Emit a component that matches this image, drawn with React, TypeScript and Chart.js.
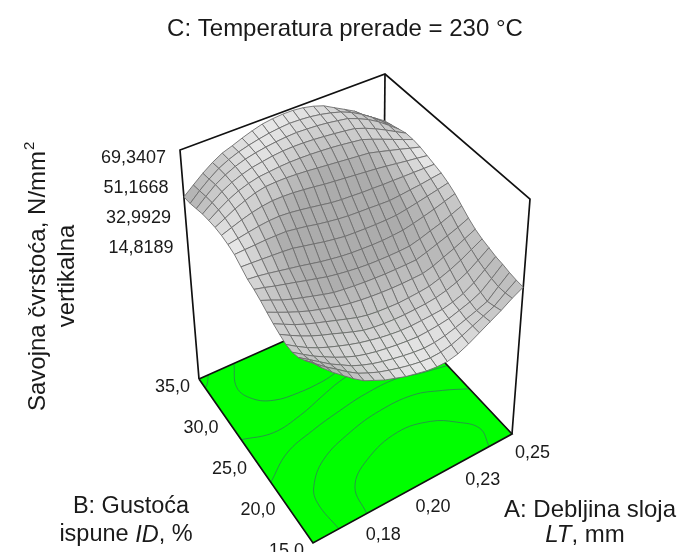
import React, { useEffect, useRef } from "react";
import { Chart, registerables } from "chart.js";

Chart.register(...registerables);

const titleText = "C: Temperatura prerade = 230 °C";
const thicknessValues = [0.15, 0.175, 0.2, 0.225, 0.25];
const thicknessLabels = ["0,15", "0,18", "0,20", "0,23", "0,25"];
const densityValues = [15, 20, 25, 30, 35];
const densityLabels = ["15,0", "20,0", "25,0", "30,0", "35,0"];
const strengthTicks = [69.3407, 51.1668, 32.9929, 14.8189];
const strengthLabels = ["69,3407", "51,1668", "32,9929", "14,8189"];

// rows: density 15 -> 35 %, columns: thickness 0.15 -> 0.25 mm
const strength = [
  [34.0,27.7,22.2,17.3,12.5,8.3,5.5,2.7,0.7,-1.4,-2.8,-4.2,-4.9,-4.9,-3.5,-0.7,2.7,6.2,9.7,13.8,17.3],
  [30.5,25.6,20.8,16.6,12.2,8.3,5.5,3.0,1.1,-0.6,-2.1,-3.2,-3.8,-3.5,-2.3,0.0,2.7,5.5,8.3,13.1,17.6],
  [27.7,23.6,19.4,15.2,11.8,8.3,5.7,3.6,1.9,0.5,-0.7,-1.7,-2.3,-2.0,-1.0,0.7,2.7,4.8,7.2,12.9,18.3],
  [26.3,22.2,18.3,15.0,11.8,9.0,6.6,4.8,3.4,2.3,1.4,0.7,0.2,0.5,1.1,2.0,3.9,5.9,8.7,13.8,19.4],
  [26.3,22.4,18.8,15.8,13.3,11.1,9.0,7.2,5.7,4.4,3.4,2.7,2.5,2.7,3.0,3.4,4.8,6.9,10.4,15.2,20.1],
  [27.7,24.3,21.1,18.3,15.9,13.8,11.5,9.3,7.3,6.2,5.5,5.1,5.0,5.2,5.5,6.2,7.6,9.7,12.7,16.9,21.5],
  [29.4,26.3,23.3,20.8,18.6,16.6,14.5,12.5,10.5,9.1,8.3,7.9,7.6,7.9,8.3,9.0,10.8,13.1,15.9,19.4,22.9],
  [31.6,28.8,26.1,23.6,21.3,19.4,17.6,15.9,14.7,13.8,13.1,12.6,12.3,12.2,12.3,12.5,14.1,16.6,19.0,21.9,24.9],
  [34.0,31.5,28.8,26.6,24.7,22.9,21.1,19.5,18.6,17.9,17.3,16.9,16.6,16.5,16.5,16.6,18.4,20.5,22.6,24.9,27.7],
  [36.0,34.4,32.6,31.0,29.4,27.7,26.1,24.5,23.3,22.3,21.5,20.9,20.6,20.5,20.5,20.8,22.4,24.4,26.3,28.7,31.2],
  [37.4,36.7,35.6,34.4,33.1,31.9,30.5,29.1,28.0,27.0,26.3,25.9,25.6,25.5,25.8,26.3,27.6,29.1,30.8,32.7,34.7],
  [40.2,39.9,39.5,39.1,38.7,38.1,36.7,35.4,34.0,32.9,31.9,31.5,31.2,31.0,31.0,31.2,32.2,33.4,34.7,36.0,37.4],
  [43.0,43.3,43.5,43.8,43.8,43.7,42.7,41.6,40.2,39.1,38.1,37.4,37.0,36.7,36.3,36.0,36.5,37.2,37.8,38.7,39.5],
  [44.4,45.5,46.6,47.6,48.3,48.5,48.0,47.1,46.0,44.9,43.7,43.0,42.6,42.1,41.9,41.6,41.5,41.3,41.2,41.0,40.9],
  [45.3,47.4,49.5,51.3,52.6,53.4,53.4,53.1,52.4,51.6,50.6,49.9,49.2,48.5,47.8,47.1,46.2,45.2,44.2,43.3,42.3],
  [45.5,48.5,51.6,54.1,56.2,57.5,57.8,57.8,57.4,56.9,56.2,55.5,54.8,54.1,53.4,52.7,51.0,49.2,47.4,45.5,43.7],
  [45.1,49.0,52.6,55.5,57.5,59.0,59.6,60.2,60.5,60.5,60.3,59.9,59.4,58.7,57.8,56.9,54.6,52.1,49.5,46.9,44.4],
  [44.4,48.8,53.0,56.2,58.5,60.3,61.4,62.4,63.0,63.2,63.1,62.7,62.1,61.4,60.6,59.6,57.3,54.5,51.3,47.8,44.4],
  [43.0,48.0,52.7,56.2,59.0,61.0,62.4,63.5,64.3,64.9,65.2,64.9,64.5,63.8,62.8,61.7,59.2,56.2,52.4,47.8,43.0],
  [41.6,46.9,51.6,55.7,58.7,61.0,62.7,64.1,65.3,66.1,66.6,66.4,65.9,64.9,63.5,61.7,59.0,55.5,51.3,46.4,41.6],
  [40.9,45.8,50.6,54.8,58.2,60.3,62.7,64.8,66.6,67.5,68.0,68.0,67.3,65.9,63.8,60.3,56.9,53.4,48.5,44.4,40.2],
];

// floor contours, each as thickness (mm) and density (%)
const contourThickness = [
  [0.177,0.18,0.192,0.211,0.226,0.235,0.241,0.2385],
  [0.163,0.162,0.165,0.176,0.194,0.211,0.228,0.24,0.25],
  [0.15,0.164,0.18,0.196,0.211,0.227,0.237,0.25],
  [0.15,0.1645,0.18,0.194,0.205,0.218],
  [0.169,0.163,0.166,0.174,0.186,0.199,0.206],
  [0.15,0.152,0.155],
];
const contourDensity = [
  [15,18,19.9,21,20.4,19,17.2,15],
  [15,18.3,20,22,23.3,23.9,23.8,22.8,21.6],
  [22.4,24.3,25.2,25.8,26.2,26.2,25.6,25],
  [27.6,26.8,27.2,28,28.6,29],
  [35,32.6,30.9,29.8,29.4,29.4,29.6],
  [33.9,34.2,35],
];

const A_MIN = 0.15, A_MAX = 0.25, B_MIN = 15, B_MAX = 35;
const Z_FLOOR = -69.4, Z_TOP = 69.34;

// view of the box: [thickness low/high][density low/high] in the page plane
const floorView = [[[313, 543], [199, 379]], [[512, 434], [383, 297]]];
const topView = [[[310, 300], [180, 150]], [[530, 199], [385, 74]]];

const FONT = '"Liberation Sans", Arial, sans-serif';

function bilerp(c: number[][][], u: number, v: number, k: number) {
  return c[0][0][k] * (1 - u) * (1 - v) + c[1][0][k] * u * (1 - v) + c[0][1][k] * (1 - u) * v + c[1][1][k] * u * v;
}
function project(a: number, b: number, z: number) {
  const u = (a - A_MIN) / (A_MAX - A_MIN);
  const v = (b - B_MIN) / (B_MAX - B_MIN);
  const h = (z - Z_FLOOR) / (Z_TOP - Z_FLOOR);
  return {
    x: bilerp(floorView, u, v, 0) * (1 - h) + bilerp(topView, u, v, 0) * h,
    y: bilerp(floorView, u, v, 1) * (1 - h) + bilerp(topView, u, v, 1) * h,
  };
}

function buildDatasets() {
  const sets: any[] = [];
  const rows = strength.length, cols = strength[0].length;
  const aAt = (i: number) => A_MIN + ((A_MAX - A_MIN) * i) / (cols - 1);
  const bAt = (j: number) => B_MIN + ((B_MAX - B_MIN) * j) / (rows - 1);
  const span = Z_TOP - Z_FLOOR;
  const R = 3;
  // nearest cells first: Chart.js paints the highest index first
  for (let j = 0; j < rows - 1; j++) {
    for (let i = 0; i < cols - 1; i++) {
      const z00 = strength[j][i], z10 = strength[j][i + 1], z01 = strength[j + 1][i], z11 = strength[j + 1][i + 1];
      const i0 = Math.max(0, i - R), i1 = Math.min(cols - 1, i + 1 + R);
      const j0 = Math.max(0, j - R), j1 = Math.min(rows - 1, j + 1 + R);
      const gu = ((strength[j][i1] + strength[j + 1][i1] - strength[j][i0] - strength[j + 1][i0]) / 2 / (i1 - i0) * (cols - 1)) / span;
      const gv = ((strength[j1][i] + strength[j1][i + 1] - strength[j0][i] - strength[j0][i + 1]) / 2 / (j1 - j0) * (rows - 1)) / span;
      const g = Math.hypot(gu, gv);
      const shade = Math.round(Math.max(172, 246 / Math.sqrt(1 + (1.45 * g) ** 2)));
      sets.push({
        data: [
          project(aAt(i), bAt(j), z00), project(aAt(i + 1), bAt(j), z10),
          project(aAt(i + 1), bAt(j + 1), z11), project(aAt(i), bAt(j + 1), z01),
          project(aAt(i), bAt(j), z00),
        ],
        showLine: true, fill: "shape", tension: 0, pointRadius: 0,
        backgroundColor: `rgb(${shade},${shade},${shade})`,
        borderColor: "#6e6e6e", borderWidth: 0.9,
      });
    }
  }
  const edge = (p: any[], w: number) => ({
    data: p, showLine: true, fill: false, tension: 0, pointRadius: 0, borderColor: "#111111", borderWidth: w,
  });
  const zf = Z_FLOOR, zt = Z_TOP;
  sets.push(edge([project(A_MIN, B_MAX, zf), project(A_MIN, B_MAX, zt), project(A_MAX, B_MAX, zt), project(A_MAX, B_MIN, zt), project(A_MAX, B_MIN, zf)], 1.7));
  sets.push(edge([project(A_MAX, B_MAX, zt), project(A_MAX, B_MAX, zf)], 1.7));
  sets.push(edge([project(A_MIN, B_MAX, zf), project(A_MIN, B_MIN, zf), project(A_MAX, B_MIN, zf), project(A_MAX, B_MAX, zf), project(A_MIN, B_MAX, zf)], 1.7));
  contourThickness.forEach((as, k) => {
    sets.push({
      data: as.map((a, n) => project(a, contourDensity[k][n], zf)),
      showLine: true, fill: false, tension: 0.4, pointRadius: 0, borderColor: "#2f7f55", borderWidth: 0.8,
    });
  });
  sets.push({
    data: [project(A_MIN, B_MIN, zf), project(A_MAX, B_MIN, zf), project(A_MAX, B_MAX, zf), project(A_MIN, B_MAX, zf), project(A_MIN, B_MIN, zf)],
    showLine: true, fill: "shape", tension: 0, pointRadius: 0, backgroundColor: "#00ff00", borderWidth: 0,
  });
  return sets;
}

function runs(ctx: CanvasRenderingContext2D, parts: [string, boolean][], size: number, cx: number, y: number) {
  const fontOf = (it: boolean) => `${it ? "italic " : ""}${size}px ${FONT}`;
  let w = 0;
  parts.forEach(([t, it]) => { ctx.font = fontOf(it); w += ctx.measureText(t).width; });
  let x = cx - w / 2;
  ctx.textAlign = "left";
  parts.forEach(([t, it]) => { ctx.font = fontOf(it); ctx.fillText(t, x, y); x += ctx.measureText(t).width; });
}

const labelsPlugin = {
  id: "labels3d",
  afterDatasetsDraw(chart: any) {
    const ctx: CanvasRenderingContext2D = chart.ctx;
    const sx = chart.scales.x, sy = chart.scales.y;
    const at = (p: { x: number; y: number }) => ({ x: sx.getPixelForValue(p.x), y: sy.getPixelForValue(p.y) });
    ctx.save();
    ctx.fillStyle = "#1a1a1a";
    ctx.textBaseline = "middle";
    ctx.font = `24px ${FONT}`;
    ctx.textAlign = "center";
    ctx.fillText(titleText, 345, 29);
    ctx.font = `18px ${FONT}`;
    ctx.textAlign = "right";
    strengthTicks.forEach((z, i) => {
      const p = at(project(A_MIN, B_MAX, z));
      ctx.fillText(strengthLabels[i], p.x - 14, p.y + 8);
    });
    densityValues.forEach((b, i) => {
      const p = at(project(A_MIN, b, Z_FLOOR));
      ctx.fillText(densityLabels[i], p.x - 9, p.y + 8);
    });
    ctx.textAlign = "left";
    thicknessValues.forEach((a, i) => {
      const p = at(project(a, B_MIN, Z_FLOOR));
      ctx.fillText(thicknessLabels[i], p.x + 3, p.y + 19);
    });
    runs(ctx, [["B: Gustoća", false]], 23.5, 131, 507);
    runs(ctx, [["ispune ", false], ["ID", true], [", %", false]], 23.5, 126, 535);
    runs(ctx, [["A: Debljina sloja", false]], 24, 590, 510);
    runs(ctx, [["LT", true], [", mm", false]], 24, 585, 535);
    ctx.save();
    ctx.translate(38, 281);
    ctx.rotate(-Math.PI / 2);
    ctx.font = `24px ${FONT}`;
    ctx.textAlign = "center";
    const main = "Savojna čvrstoća, N/mm";
    ctx.fillText(main, 0, 0);
    const w = ctx.measureText(main).width;
    ctx.font = `15px ${FONT}`;
    ctx.textAlign = "left";
    ctx.fillText("2", w / 2 + 1, -8);
    ctx.restore();
    ctx.save();
    ctx.translate(67, 276);
    ctx.rotate(-Math.PI / 2);
    ctx.font = `24px ${FONT}`;
    ctx.textAlign = "center";
    ctx.fillText("vertikalna", 0, 0);
    ctx.restore();
    ctx.restore();
  },
};

export default function App() {
  const ref = useRef<HTMLCanvasElement>(null);
  useEffect(() => {
    document.body.style.margin = "0";
    const chart = new Chart(ref.current as HTMLCanvasElement, {
      type: "scatter",
      data: { datasets: buildDatasets() },
      options: {
        animation: false,
        responsive: false,
        layout: { padding: 0 },
        events: [],
        plugins: { legend: { display: false }, tooltip: { enabled: false } },
        scales: {
          x: { type: "linear", min: 0, max: 677, display: false },
          y: { type: "linear", min: 0, max: 552, reverse: true, display: false },
        },
      },
      plugins: [labelsPlugin],
    } as any);
    return () => chart.destroy();
  }, []);
  return (
    <div style={{ width: 677, height: 552, background: "#fff" }}>
      <canvas ref={ref} width={677} height={552} style={{ display: "block" }} />
    </div>
  );
}
